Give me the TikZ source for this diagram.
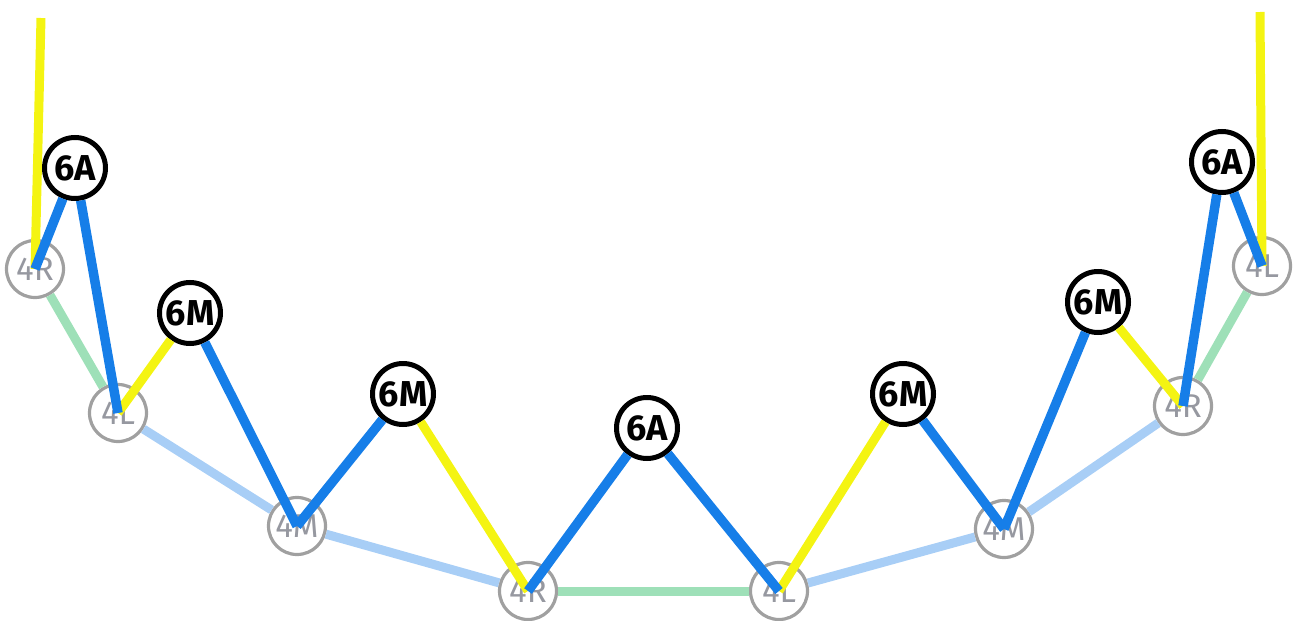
\documentclass[tikz,border=0pt]{standalone}
\usepackage{fontspec}
\setmainfont{Fira Sans}
\definecolor{lblue}{RGB}{22,126,232}
\definecolor{lyellow}{RGB}{244,244,18}
\definecolor{paleblue}{RGB}{168,206,246}
\definecolor{palegreen}{RGB}{158,224,184}
\definecolor{ringgrey}{RGB}{160,160,160}
\definecolor{txtgrey}{RGB}{150,152,160}
\tikzset{
  six/.style={circle, draw=black, line width=5pt, fill=white, minimum size=61pt, inner sep=0pt,
    font=\fontsize{36}{36}\selectfont\bfseries, text=black},
  four/.style={circle, draw=ringgrey, line width=3.2pt, minimum size=57pt, inner sep=0pt,
    font=\fontsize{33}{33}\selectfont, text=txtgrey},
  bl/.style={draw=lblue, line width=9.5pt},
  yl/.style={draw=lyellow, line width=9pt},
  pb/.style={draw=paleblue, line width=9pt},
  pg/.style={draw=palegreen, line width=9pt}
}
\begin{document}
\begin{tikzpicture}[x=1pt,y=-1pt]
\useasboundingbox (0,0) rectangle (1299,621);
% 4x nodes
\node[four] (r1) at (35,269) {4R};
\node[four] (l1) at (118,413) {4L};
\node[four] (m1) at (297,526) {4M};
\node[four] (r2) at (528,591) {4R};
\node[four] (l2) at (779,591) {4L};
\node[four] (m2) at (1004,529) {4M};
\node[four] (r3) at (1183,406) {4R};
\node[four] (l3) at (1262,266) {4L};
% 6x nodes
\node[six] (a1) at (75,168) {6A};
\node[six] (s1) at (190,313) {6M};
\node[six] (s2) at (403,394) {6M};
\node[six] (a2) at (647,428) {6A};
\node[six] (s3) at (903,394) {6M};
\node[six] (s4) at (1098,302) {6M};
\node[six] (a3) at (1222,162) {6A};
\coordinate (ytl) at (41,18);
\coordinate (ytr) at (1260,12);
% pale links
\draw[pg] (r1) -- (l1);
\draw[pb] (l1) -- (m1);
\draw[pb] (m1) -- (r2);
\draw[pg] (r2) -- (l2);
\draw[pb] (l2) -- (m2);
\draw[pb] (m2) -- (r3);
\draw[pg] (r3) -- (l3);
% yellow links
\draw[yl] (ytl) -- (r1.center);
\draw[yl] (s1) -- (l1.center);
\draw[yl] (s2) -- (r2.center);
\draw[yl] (s3) -- (l2.center);
\draw[yl] (s4) -- (r3.center);
\draw[yl] (ytr) -- (l3.center);
% blue links
\draw[bl] (a1) -- (r1.center);
\draw[bl] (a1) -- (l1.center);
\draw[bl] (s1) -- (m1.center);
\draw[bl] (s2) -- (m1.center);
\draw[bl] (a2) -- (r2.center);
\draw[bl] (a2) -- (l2.center);
\draw[bl] (s3) -- (m2.center);
\draw[bl] (s4) -- (m2.center);
\draw[bl] (a3) -- (r3.center);
\draw[bl] (a3) -- (l3.center);
\end{tikzpicture}
\end{document}
